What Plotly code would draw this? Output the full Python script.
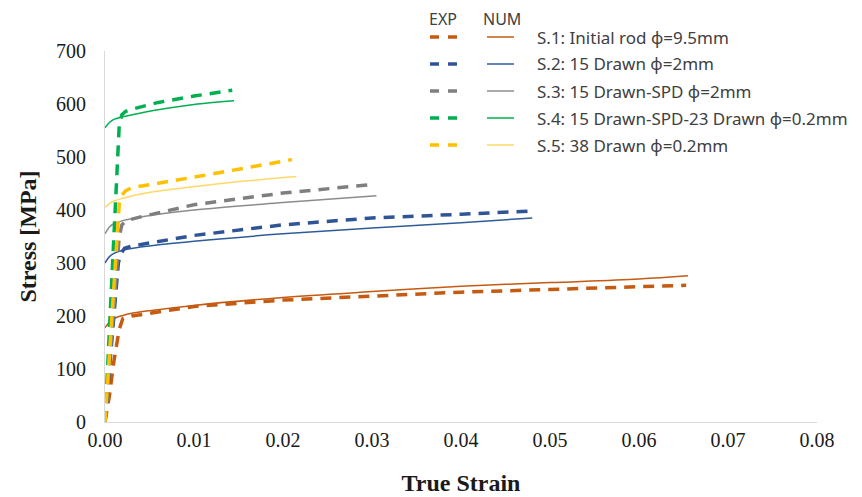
import plotly.graph_objects as go

# ---------------- data ----------------
labels = ["S.1: Initial rod \u03d5=9.5mm", "S.2: 15 Drawn \u03d5=2mm", "S.3: 15 Drawn-SPD \u03d5=2mm",
          "S.4: 15 Drawn-SPD-23 Drawn \u03d5=0.2mm", "S.5: 38 Drawn \u03d5=0.2mm"]

s1_exp_x = [0.0, 0.0005, 0.0010, 0.0016, 0.0020, 0.0030, 0.005, 0.010, 0.020, 0.030, 0.040, 0.050, 0.060, 0.0653]
s1_exp_y = [0, 50, 115, 175, 195, 200, 205, 218, 230, 238, 245, 250, 255, 258]
s1_num_x = [0.0, 0.0005, 0.0010, 0.0020, 0.0030, 0.005, 0.010, 0.020, 0.030, 0.040, 0.050, 0.060, 0.0655]
s1_num_y = [178, 188, 195, 201, 205, 210, 220, 235, 246, 256, 263, 270, 276]

s2_exp_x = [0.0, 0.0015, 0.0018, 0.0022, 0.003, 0.006, 0.010, 0.020, 0.030, 0.040, 0.048]
s2_exp_y = [0, 300, 318, 328, 332, 340, 352, 372, 385, 392, 398]
s2_num_x = [0.0, 0.0005, 0.001, 0.002, 0.004, 0.010, 0.020, 0.030, 0.040, 0.048]
s2_num_y = [300, 312, 318, 324, 330, 341, 355, 366, 376, 385]

s3_exp_x = [0.0, 0.0016, 0.0019, 0.0024, 0.004, 0.010, 0.020, 0.030]
s3_exp_y = [0, 350, 372, 380, 387, 410, 432, 448]
s3_num_x = [0.0, 0.0005, 0.001, 0.002, 0.004, 0.010, 0.020, 0.0305]
s3_num_y = [355, 368, 374, 380, 387, 400, 414, 427]

s4_exp_x = [0.0, 0.0016, 0.0019, 0.0023, 0.003, 0.006, 0.010, 0.0143]
s4_exp_y = [0, 560, 580, 586, 590, 603, 615, 626]
s4_num_x = [0.0, 0.0005, 0.001, 0.002, 0.004, 0.007, 0.010, 0.0145]
s4_num_y = [555, 565, 571, 576, 583, 592, 599, 606]

s5_exp_x = [0.0, 0.0016, 0.0019, 0.0023, 0.003, 0.006, 0.010, 0.016, 0.021]
s5_exp_y = [0, 410, 428, 436, 442, 450, 462, 480, 495]
s5_num_x = [0.0, 0.0005, 0.001, 0.002, 0.004, 0.008, 0.012, 0.016, 0.0215]
s5_num_y = [405, 412, 417, 422, 430, 440, 448, 455, 463]

exp_colors = ["#C55A11", "#2F5597", "#7F7F7F", "#00B050", "#FFC000"]
num_colors = ["#C55A11", "#2E5C9A", "#8C8C8C", "#00B050", "#FFD966"]

x_ticks = [0.0, 0.01, 0.02, 0.03, 0.04, 0.05, 0.06, 0.07, 0.08]
y_ticks = [0, 100, 200, 300, 400, 500, 600, 700]

exp_sets = [(s1_exp_x, s1_exp_y), (s2_exp_x, s2_exp_y), (s3_exp_x, s3_exp_y),
            (s4_exp_x, s4_exp_y), (s5_exp_x, s5_exp_y)]
num_sets = [(s1_num_x, s1_num_y), (s2_num_x, s2_num_y), (s3_num_x, s3_num_y),
            (s4_num_x, s4_num_y), (s5_num_x, s5_num_y)]

fig = go.Figure()
for i, (x, y) in enumerate(num_sets):
    fig.add_trace(go.Scatter(x=x, y=y, mode="lines", line=dict(color=num_colors[i], width=1.5, shape="spline"),
                             name=labels[i] + " NUM", showlegend=False))
for i, (x, y) in enumerate(exp_sets):
    fig.add_trace(go.Scatter(x=x, y=y, mode="lines",
                             line=dict(color=exp_colors[i], width=3.5, dash="11px,8px"),
                             name=labels[i] + " EXP", showlegend=False))

# page has an 8px body offset; layout computed in page pixels then shifted
OFF = 8
W, H = 862 - OFF, 497 - OFF
L, T = 105 - OFF, 51 - OFF
R = W - (817 - OFF)
B = H - (422 - OFF)
pw, ph = W - L - R, H - T - B

def px(x):
    return (x - OFF - L) / pw

def py(y):
    return (H - B - (y - OFF)) / ph

shapes = []
annotations = []
row_y = [37, 64, 91, 118, 145]
lfont = dict(family="Noto Sans", size=17, color="#404040")
hfont = dict(family="Noto Sans", size=16, color="#404040")
for i, yy in enumerate(row_y):
    shapes.append(dict(type="line", xref="paper", yref="paper", x0=px(430), x1=px(458), y0=py(yy), y1=py(yy),
                       line=dict(color=exp_colors[i], width=3.5, dash="9px,9px")))
    shapes.append(dict(type="line", xref="paper", yref="paper", x0=px(487), x1=px(514), y0=py(yy), y1=py(yy),
                       line=dict(color=num_colors[i], width=1.5)))
    annotations.append(dict(text=labels[i], xref="paper", yref="paper", x=px(535), y=py(yy),
                            xanchor="left", yanchor="middle", showarrow=False, font=lfont))
annotations.append(dict(text="EXP", xref="paper", yref="paper", x=px(443), y=py(19), xanchor="center",
                        yanchor="middle", showarrow=False, font=hfont))
annotations.append(dict(text="NUM", xref="paper", yref="paper", x=px(502), y=py(19), xanchor="center",
                        yanchor="middle", showarrow=False, font=hfont))

tfont = dict(family="Liberation Serif", size=20, color="#1a1a1a")
fig.update_layout(
    width=W, height=H, margin=dict(l=L, r=R, t=T, b=B, autoexpand=False),
    paper_bgcolor="white", plot_bgcolor="white",
    shapes=shapes, annotations=annotations, showlegend=False,
    xaxis=dict(range=[0, 0.08], tickvals=x_ticks, ticktext=[f"{v:.2f}" for v in x_ticks],
               showgrid=False, zeroline=False, showline=True, linecolor="#D9D9D9", linewidth=1,
               ticks="", tickfont=tfont, automargin=False, ticklabelstandoff=0,
               title=dict(text="<b>True Strain</b>", font=dict(family="Liberation Serif", size=24, color="#1a1a1a"),
                          standoff=24)),
    yaxis=dict(range=[0, 700], tickvals=y_ticks, showgrid=False, zeroline=False, showline=True,
               linecolor="#D9D9D9", linewidth=1, ticks="", automargin=False, ticklabelstandoff=14,
               tickfont=tfont,
               title=dict(text="<b>Stress [MPa]</b>", font=dict(family="Liberation Serif", size=24, color="#1a1a1a"),
                          standoff=12)),
)

fig.write_html("out.html")
